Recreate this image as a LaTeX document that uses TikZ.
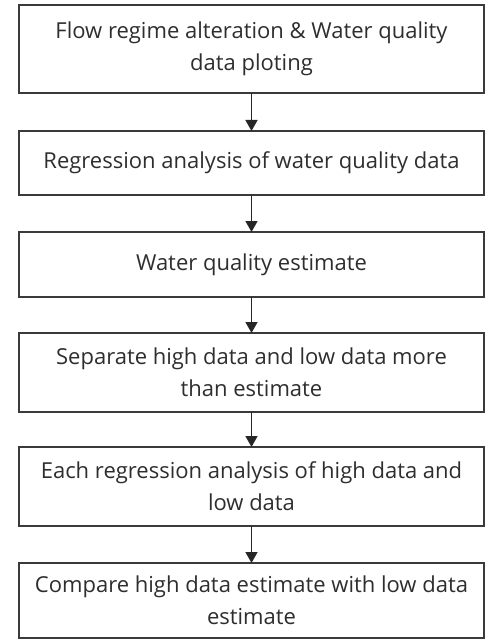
\documentclass[tikz,border=0pt]{standalone}
\usepackage{fontspec}
\setmainfont{Open Sans}
\usetikzlibrary{arrows.meta}
\definecolor{boxline}{HTML}{3A3A3A}
\definecolor{txt}{HTML}{2E2E2E}
\tikzset{
  stepbox/.style={draw=boxline, line width=1.3bp, minimum width=465bp, inner sep=0pt, outer sep=0pt,
    align=center, text=txt, font=\fontsize{22bp}{32bp}\selectfont},
  flowarrow/.style={draw=black!85, line width=1.4bp, -{Triangle[width=12bp,length=11bp]}}
}
\begin{document}
\begin{tikzpicture}[x=1bp,y=-1bp]
\useasboundingbox (0,0) rectangle (487,640);
\node[stepbox, minimum height=88bp] (b1) at (251.5,49) {Flow regime alteration \& Water quality\\data ploting};
\node[stepbox, minimum height=64bp] (b2) at (251.5,163) {Regression analysis of water quality data};
\node[stepbox, minimum height=65bp] (b3) at (251.5,264.5) {Water quality estimate};
\node[stepbox, minimum height=79bp] (b4) at (251.5,372.5) {Separate high data and low data more\\than estimate};
\node[stepbox, minimum height=79bp] (b5) at (251.5,486.5) {Each regression analysis of high data and\\low data};
\node[stepbox, minimum height=75bp] (b6) at (251.5,600.5) {Compare high data estimate with low data\\estimate};
\draw[flowarrow] (b1) -- (b2);
\draw[flowarrow] (b2) -- (b3);
\draw[flowarrow] (b3) -- (b4);
\draw[flowarrow] (b4) -- (b5);
\draw[flowarrow] (b5) -- (b6);
\end{tikzpicture}
\end{document}
